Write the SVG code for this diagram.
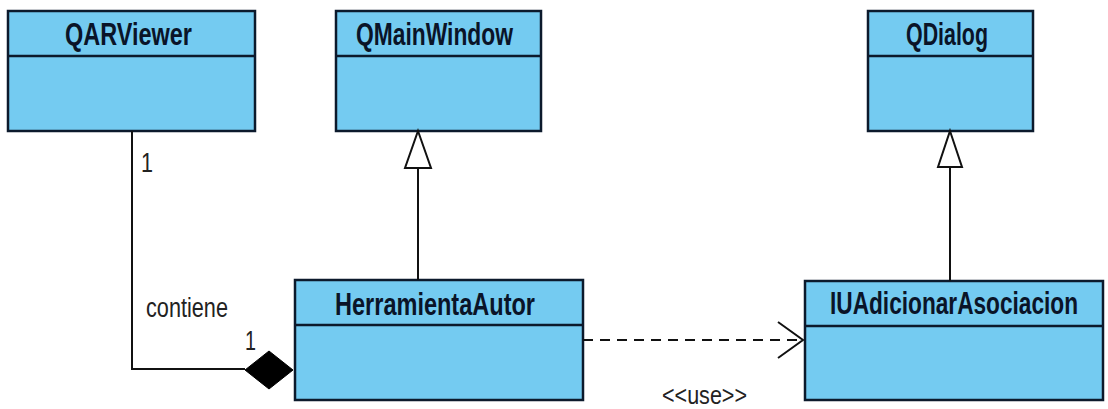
<svg xmlns="http://www.w3.org/2000/svg" width="1108" height="409" viewBox="0 0 1108 409">
<style>
.box{fill:#74CBF1;stroke:#0c1a2c;stroke-width:2.5}
.div{stroke:#0c1a2c;stroke-width:2.5}
.title{font-family:"Liberation Sans",Arial,sans-serif;font-weight:bold;font-size:32px;fill:#0a1428}
.lbl{font-family:"Liberation Sans",Arial,sans-serif;font-size:27px;fill:#222}
.ln{fill:none;stroke:#111;stroke-width:2}
</style>
<rect width="1108" height="409" fill="#fff"/>
<g id="QARViewer">
<rect class="box" x="8" y="11" width="247" height="120"/>
<line class="div" x1="8" y1="56" x2="255" y2="56"/>
<text class="title" x="65" y="45" textLength="127" lengthAdjust="spacingAndGlyphs">QARViewer</text>
</g>
<g id="QMainWindow">
<rect class="box" x="336" y="11" width="205" height="120"/>
<line class="div" x1="336" y1="56" x2="541" y2="56"/>
<text class="title" x="356" y="45" textLength="157" lengthAdjust="spacingAndGlyphs">QMainWindow</text>
</g>
<g id="QDialog">
<rect class="box" x="868" y="11" width="165" height="120"/>
<line class="div" x1="868" y1="56" x2="1033" y2="56"/>
<text class="title" x="906" y="45" textLength="82" lengthAdjust="spacingAndGlyphs">QDialog</text>
</g>
<g id="HerramientaAutor">
<rect class="box" x="295" y="280" width="288" height="120"/>
<line class="div" x1="295" y1="325" x2="583" y2="325"/>
<text class="title" x="335" y="315" textLength="200" lengthAdjust="spacingAndGlyphs">HerramientaAutor</text>
</g>
<g id="IUAdicionarAsociacion">
<rect class="box" x="805" y="281" width="298" height="119"/>
<line class="div" x1="805" y1="326" x2="1103" y2="326"/>
<text class="title" transform="translate(830,314) scale(1,1.39)" x="0" y="0" style="font-size:23px" textLength="248" lengthAdjust="spacingAndGlyphs">IUAdicionarAsociacion</text>
</g>
<g id="connectors">
<polyline class="ln" points="132,131 132,369 245,369"/>
<polygon points="245,370 269,351 293,370 269,389" fill="#000" stroke="#000" stroke-width="1"/>
<text class="lbl" x="141" y="172" textLength="12" lengthAdjust="spacingAndGlyphs">1</text>
<text class="lbl" x="146" y="317" textLength="82" lengthAdjust="spacingAndGlyphs">contiene</text>
<text class="lbl" x="245" y="350" textLength="11" lengthAdjust="spacingAndGlyphs">1</text>
<line class="ln" x1="418" y1="168" x2="418" y2="280"/>
<polygon points="418,131 431,168 405,168" fill="#fff" stroke="#111" stroke-width="2"/>
<line class="ln" x1="950" y1="167" x2="950" y2="281"/>
<polygon points="950,131 962,167 938,167" fill="#fff" stroke="#111" stroke-width="2"/>
<line class="ln" x1="583" y1="340" x2="802" y2="340" stroke-dasharray="10,7"/>
<polyline class="ln" points="778,322 803,340 778,358"/>
<text class="lbl" x="662" y="404" textLength="85" lengthAdjust="spacingAndGlyphs" style="font-size:25px">&lt;&lt;use&gt;&gt;</text>
</g>
</svg>
